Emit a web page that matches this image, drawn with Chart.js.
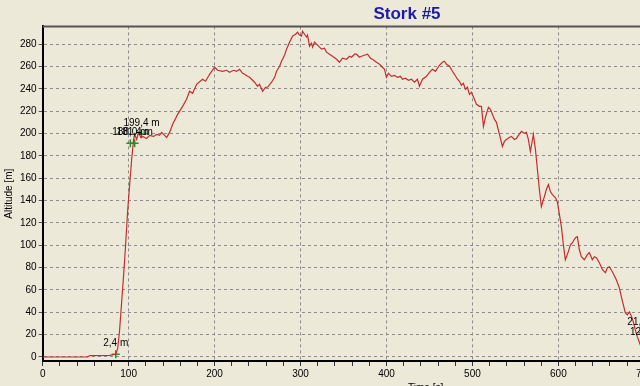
<!DOCTYPE html>
<html>
<head>
<meta charset="utf-8">
<script src="https://cdn.jsdelivr.net/npm/chart.js@4/dist/chart.umd.min.js"></script>
<style>
  html, body { margin: 0; padding: 0; background: #ece9d8; overflow: hidden; }
  #wrap { width: 640px; height: 386px; overflow: hidden; position: relative; }
  canvas { position: absolute; left: 0; top: 0; }
</style>
</head>
<body>
<div id="wrap"><canvas id="chart" width="814" height="398"></canvas></div>
<script>
// flight track, time in s and altitude in m
var times = [0, 52.3, 54.7, 77.9, 84.9, 87.2, 89.5, 91.9, 94.2, 96.5, 98.8, 101.2, 103.5, 105.8, 107, 109.3, 111.6, 114, 116.3, 120.9,
  124.4, 129.1, 132.6, 136, 138.4, 141.9, 144.2, 147.7, 151.2, 157, 162.8, 167.4, 170.9, 174.4, 179.1, 186, 189.5, 194.2, 200, 203.5,
  209.3, 214, 217.4, 222.1, 225.6, 229.1, 232.6, 234.9, 238.4, 240.7, 244.2, 246.5, 250, 252.3, 255.8, 259.3, 261.6, 266.3, 269.8, 272.1,
  275.6, 277.9, 281.4, 283.7, 287.2, 290.7, 294.2, 296.5, 298.8, 301.2, 302.3, 304.7, 307, 308.1, 310.5, 312.8, 314, 316.3, 318.6, 322.1,
  324.4, 327.9, 330.2, 333.7, 337.2, 341.9, 345.3, 348.8, 353.5, 357, 359.3, 362.8, 365.1, 368.6, 370.9, 374.4, 377.9, 381.4, 383.7, 388.4,
  391.9, 395.3, 397.7, 400, 402.3, 405.8, 409.3, 412.8, 416.3, 418.6, 422.1, 425.6, 429.1, 432.6, 436, 438.4, 441.9, 446.5, 450, 453.5,
  457, 461.6, 465.1, 467.4, 469.8, 473.3, 476.7, 479.1, 482.6, 484.9, 487.2, 489.5, 491.9, 494.2, 496.5, 498.8, 502.3, 504.7, 508.1, 510.5,
  512.8, 515.1, 518.6, 520.9, 523.3, 525.6, 527.9, 531.4, 534.9, 537.2, 539.5, 543, 545.3, 548.8, 551.2, 553.5, 557, 560.5, 562.8, 565.1,
  567.4, 570.9, 573.3, 575.6, 577.9, 580.2, 583.7, 586, 588.4, 590.7, 593, 596.5, 598.8, 601.2, 603.5, 605.8, 608.1, 611.6, 614, 616.3,
  619.8, 622.1, 624.4, 626.7, 630.2, 633.7, 636, 639.5, 641.9, 644.2, 647.7, 651.2, 654.7, 657, 659.3, 662.8, 667.4, 670.9, 673.3, 675.6,
  677.9, 680.2, 682.6, 684.9, 687.2, 689.5, 691.9, 695.3, 700]
var altitudes = [0, 0, 1.3, 1.5, 2.4, 7.2, 24.2, 49.4, 73.6, 100.5, 130.2, 154.4, 176.8, 194.8, 199.3, 194.8, 201.1, 196.6, 197.5, 195.7,
  198.4, 197.5, 199.3, 198.4, 201.1, 198.4, 196.6, 201.1, 208.3, 217.2, 224.4, 230.7, 237.9, 236.1, 244.2, 248.7, 246.9, 253.1, 259.4, 256.7,
  255.8, 256.7, 254.9, 256.7, 255.8, 257.6, 254, 253.1, 251.3, 250.4, 247.8, 246, 242.4, 244.2, 237.9, 241.5, 241.5, 246, 250.4, 255.8,
  260.3, 264.8, 270.2, 275.6, 281.9, 287.3, 289, 290.8, 288.2, 287.3, 291.7, 289, 286.4, 288.2, 278.3, 281, 277.4, 281.9, 280.1, 277.4,
  275.6, 276.5, 272.9, 271.1, 269.3, 266.6, 263.9, 267.5, 266.6, 269.3, 268.4, 271.1, 271.1, 268.4, 269.3, 270.2, 271.1, 267.5, 266.6, 263.9,
  262.1, 259.4, 257.6, 250.4, 254, 251.3, 252.2, 250.4, 251.3, 248.7, 249.6, 247.8, 248.7, 246, 248.7, 242.4, 248.7, 251.3, 254.9, 257.6,
  255.8, 261.2, 263.9, 264.8, 262.1, 260.3, 255.8, 253.1, 248.7, 246.9, 243.3, 245.1, 239.7, 241.5, 235.2, 237, 230.7, 226.2, 224.4, 224.4,
  206.5, 214.5, 223.5, 221.7, 217.2, 212.7, 210.1, 199.3, 188.5, 193, 194.8, 196.6, 197.5, 194.8, 195.7, 198.4, 202, 200.2, 201.1, 194.8,
  184, 199.3, 185.8, 167.9, 149.9, 134.6, 143.6, 149.9, 154.4, 148.1, 145.4, 142.7, 139.1, 127.5, 116.7, 100.5, 87.1, 94.3, 100.5, 102.3,
  106.8, 107.7, 96, 89.8, 87.1, 91.6, 93.4, 87.1, 89.8, 88.9, 84.4, 78.1, 75.4, 79.9, 80.8, 76.3, 69.1, 61.9, 53.9, 46.7,
  39.5, 37.7, 40.4, 36.8, 31.4, 24.2, 18, 10.8, 6.3]

// marked points with their labels
var markTimes = [85, 102, 107, 115, 698, 701]
var markAlts = [2.4, 191.4, 191.4, 199.4, 21.6, 12.3]
var markLabels = ['2,4 m', '188,0 m', '181,4 m', '199,4 m', '21,6 m', '12,3 m']

// axis ticks
var yTicks = [0, 20, 40, 60, 80, 100, 120, 140, 160, 180, 200, 220, 240, 260, 280]
var xLabels = [0, 100, 200, 300, 400, 500, 600, 700, 800]
var xMinorStep = 20

var font = 'Liberation Sans'

var track = times.map(function (t, i) { return { x: t, y: altitudes[i] } })
var marks = markTimes.map(function (t, i) { return { x: t, y: markAlts[i] } })

var frame = {
  id: 'frame',
  afterDraw: function (chart) {
    var c = chart.ctx
    var a = chart.chartArea
    c.save()
    c.strokeStyle = '#555'
    c.lineWidth = 2
    c.beginPath()
    c.moveTo(a.left, a.top)
    c.lineTo(a.right, a.top)
    c.stroke()
    c.restore()
  }
}

var markText = {
  id: 'markText',
  afterDatasetsDraw: function (chart) {
    var c = chart.ctx
    var xs = chart.scales.x
    var ys = chart.scales.y
    c.save()
    c.font = '10px "' + font + '"'
    c.fillStyle = '#000'
    c.textAlign = 'center'
    c.textBaseline = 'middle'
    markLabels.forEach(function (txt, i) {
      c.fillText(txt, xs.getPixelForValue(markTimes[i]), ys.getPixelForValue(markAlts[i]) - 11)
    })
    c.restore()
  }
}

var ctx = document.getElementById('chart')

var chart = new Chart(ctx, {
  type: 'line',
  data: {
    datasets: [
      {
        data: track,
        borderColor: '#c32e2e',
        borderWidth: 1.2,
        pointRadius: 0,
        tension: 0
      },
      {
        data: marks,
        showLine: false,
        pointStyle: 'cross',
        pointRadius: 4,
        borderColor: '#2e8b2e',
        borderWidth: 1.5,
        pointHoverRadius: 4
      }
    ]
  },
  options: {
    responsive: false,
    animation: false,
    events: [],
    layout: { padding: 0 },
    plugins: {
      legend: { display: false },
      tooltip: { enabled: false },
      title: {
        display: true,
        text: 'Stork #5',
        color: '#1c1ca8',
        font: { family: font, size: 17, weight: 'bold' },
        padding: { top: 4, bottom: 2 }
      }
    },
    scales: {
      x: {
        type: 'linear',
        min: 0,
        max: 891,
        afterBuildTicks: function (scale) {
          var t = []
          for (var v = scale.min; v <= scale.max; v += xMinorStep) t.push({ value: v })
          scale.ticks = t
        },
        ticks: {
          autoSkip: false,
          maxRotation: 0,
          padding: 2,
          color: '#000',
          font: { family: font, size: 10 },
          callback: function (v) { return xLabels.indexOf(v) >= 0 ? v : '' }
        },
        grid: {
          color: function (c) { return c.tick && c.tick.value > 0 && xLabels.indexOf(c.tick.value) >= 0 ? '#8c8c8c' : 'transparent' },
          tickColor: '#333',
          tickLength: 5,
          lineWidth: 1
        },
        border: { display: true, color: '#000', width: 2, dash: [3, 3] },
        title: {
          display: true,
          text: 'Time [s]',
          color: '#000',
          font: { family: font, size: 10 },
          padding: { top: 0, bottom: 4 }
        }
      },
      y: {
        min: -3.6,
        max: 296,
        afterBuildTicks: function (scale) {
          scale.ticks = yTicks.map(function (v) { return { value: v } })
        },
        ticks: {
          padding: 2,
          color: '#000',
          font: { family: font, size: 10 }
        },
        grid: {
          color: '#8c8c8c',
          tickColor: '#555',
          tickLength: 4,
          lineWidth: 1
        },
        border: { display: true, color: '#000', width: 2, dash: [3, 3] },
        title: {
          display: true,
          text: 'Altitude [m]',
          color: '#000',
          font: { family: font, size: 10 },
          padding: { top: 3, bottom: 3 }
        }
      }
    }
  },
  plugins: [frame, markText]
})
</script>
</body>
</html>
